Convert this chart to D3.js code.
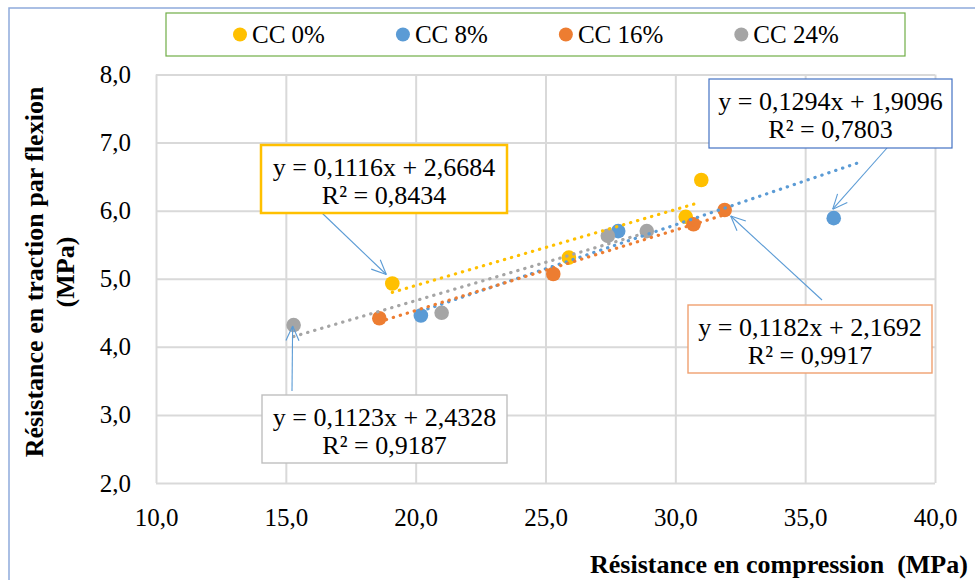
<!DOCTYPE html>
<html>
<head>
<meta charset="utf-8">
<script src="https://cdn.jsdelivr.net/npm/d3@7"></script>
<style>
  html, body { margin: 0; padding: 0; background: #fff; }
  svg, svg text { font-family: "Liberation Serif", "Tinos", "DejaVu Serif", serif !important; }
  .tick text { font-size: 25px; fill: #000; }
</style>
</head>
<body>
<svg id="chart" width="975" height="580"></svg>
<script>
// Series names
const categories = ["CC 0%", "CC 8%", "CC 16%", "CC 24%"];

// Compression strength (MPa) and flexural tensile strength (MPa) per series
const cc0Compression  = [19.1, 25.9, 30.4, 31.0];
const cc0Flexion      = [4.93, 5.31, 5.91, 6.45];
const cc8Compression  = [20.2, 27.8, 36.1];
const cc8Flexion      = [4.46, 5.70, 5.89];
const cc16Compression = [18.6, 25.3, 30.7, 31.9];
const cc16Flexion     = [4.42, 5.07, 5.80, 6.01];
const cc24Compression = [15.3, 21.0, 27.4, 28.9];
const cc24Flexion     = [4.32, 4.50, 5.63, 5.70];

// Linear trendlines: y = slope * x + intercept, with R²
const trendSlopes     = [0.1116, 0.1294, 0.1182, 0.1123];
const trendIntercepts = [2.6684, 1.9096, 2.1692, 2.4328];
const trendR2         = [0.8434, 0.7803, 0.9917, 0.9187];
const trendFrom       = [19.1, 20.2, 18.6, 15.3];
const trendTo         = [30.8, 37.0, 31.9, 28.9];

// Axis ticks
const xTicks = [10, 15, 20, 25, 30, 35, 40];
const xTickLabels = ["10,0", "15,0", "20,0", "25,0", "30,0", "35,0", "40,0"];
const yTicks = [2, 3, 4, 5, 6, 7, 8];
const yTickLabels = ["2,0", "3,0", "4,0", "5,0", "6,0", "7,0", "8,0"];

const xTitle = "Résistance en compression  (MPa)";
const yTitleLines = ["Résistance en traction par flexion", "(MPa)"];

// ---- build series table ----
const xs = [cc0Compression, cc8Compression, cc16Compression, cc24Compression];
const ys = [cc0Flexion, cc8Flexion, cc16Flexion, cc24Flexion];
const colors = ["#FFC000", "#5B9BD5", "#ED7D31", "#A5A5A5"];
const series = categories.map((name, i) => ({
  name,
  color: colors[i],
  points: xs[i].map((x, j) => ({ x, y: ys[i][j] })),
  slope: trendSlopes[i],
  intercept: trendIntercepts[i],
  r2: trendR2[i],
  from: trendFrom[i],
  to: trendTo[i]
}));

const svg = d3.select("#chart");
const plot = { left: 156, right: 935, top: 74.5, bottom: 483 };

const x = d3.scaleLinear().domain([10, 40]).range([plot.left, plot.right]);
const y = d3.scaleLinear().domain([2, 8]).range([plot.bottom, plot.top]);

// outer chart frame (extends past the window on right/bottom)
svg.append("rect")
  .attr("x", 9).attr("y", 8).attr("width", 1000).attr("height", 600)
  .attr("fill", "#fff").attr("stroke", "#8EAADB").attr("stroke-width", 1.5);

// ---- axes with gridlines ----
const gx = svg.append("g")
  .attr("transform", `translate(0,${plot.bottom})`)
  .call(d3.axisBottom(x)
    .tickValues(xTicks)
    .tickFormat((d, i) => xTickLabels[i])
    .tickSize(-(plot.bottom - plot.top))
    .tickPadding(25));
const gy = svg.append("g")
  .attr("transform", `translate(${plot.left},0)`)
  .call(d3.axisLeft(y)
    .tickValues(yTicks)
    .tickFormat((d, i) => yTickLabels[i])
    .tickSize(-(plot.right - plot.left))
    .tickPadding(25));
[gx, gy].forEach(g => {
  g.attr("font-family", null);
  g.select(".domain").remove();
  g.selectAll(".tick line").attr("stroke", "#D9D9D9").attr("stroke-width", 2);
});

// ---- scatter points ----
series.forEach(s => {
  svg.append("g").selectAll("circle")
    .data(s.points).join("circle")
    .attr("cx", d => x(d.x))
    .attr("cy", d => y(d.y))
    .attr("r", 7.3)
    .attr("fill", s.color);
});

// ---- dotted trendlines ----
series.forEach(s => {
  const f = v => s.slope * v + s.intercept;
  svg.append("line")
    .attr("x1", x(s.from)).attr("y1", y(f(s.from)))
    .attr("x2", x(s.to)).attr("y2", y(f(s.to)))
    .attr("stroke", s.color)
    .attr("stroke-width", 3.2)
    .attr("stroke-linecap", "round")
    .attr("stroke-dasharray", "0.3 7");
});

// ---- equation callouts ----
const fmt4 = v => d3.format(".4f")(v).replace(".", ",");
const callouts = [
  { s: 0, box: { x: 261, y: 145, w: 246, h: 68 }, stroke: "#FFC000", sw: 2.5, tail: [322, 213], pt: 0, off: [-6, -9] },
  { s: 1, box: { x: 709, y: 79,  w: 243, h: 69 }, stroke: "#4472C4", sw: 1.2, tail: [887, 148], pt: 2, off: [-1, -9] },
  { s: 2, box: { x: 688, y: 305, w: 244, h: 68 }, stroke: "#F0A070", sw: 1.4, tail: [822, 300], pt: 3, off: [6, 6] },
  { s: 3, box: { x: 262, y: 395, w: 245, h: 68 }, stroke: "#BFBFBF", sw: 1.4, tail: [292, 391], pt: 0, off: [-1, 1] }
];

callouts.forEach(c => {
  const s = series[c.s];
  // arrow
  const p = s.points[c.pt];
  const tx = x(p.x) + c.off[0], ty = y(p.y) + c.off[1];
  const [sx, sy] = c.tail;
  const ang = Math.atan2(ty - sy, tx - sx);
  const headLen = 16, spread = 0.42;
  const g = svg.append("g").attr("stroke", "#5B9BD5").attr("stroke-width", 1.1).attr("fill", "none");
  g.append("line").attr("x1", sx).attr("y1", sy).attr("x2", tx).attr("y2", ty);
  [-spread, spread].forEach(a => {
    g.append("line")
      .attr("x1", tx).attr("y1", ty)
      .attr("x2", tx - headLen * Math.cos(ang + a))
      .attr("y2", ty - headLen * Math.sin(ang + a));
  });
  // box
  svg.append("rect")
    .attr("x", c.box.x).attr("y", c.box.y).attr("width", c.box.w).attr("height", c.box.h)
    .attr("fill", "#fff").attr("stroke", c.stroke).attr("stroke-width", c.sw);
  const cx = c.box.x + c.box.w / 2;
  const t = svg.append("text")
    .attr("text-anchor", "middle")
    .attr("font-size", 26)
    .attr("fill", "#000");
  t.append("tspan").attr("x", cx).attr("y", c.box.y + 31)
    .text(`y = ${fmt4(s.slope)}x + ${fmt4(s.intercept)}`);
  t.append("tspan").attr("x", cx).attr("y", c.box.y + 59)
    .text(`R² = ${fmt4(s.r2)}`);
});

// ---- legend ----
svg.append("rect")
  .attr("x", 166).attr("y", 13).attr("width", 739).attr("height", 43)
  .attr("fill", "#fff").attr("stroke", "#70AD47").attr("stroke-width", 1.2);
let lx = 240;
series.forEach(s => {
  svg.append("circle").attr("cx", lx).attr("cy", 34.5).attr("r", 7).attr("fill", s.color);
  const t = svg.append("text")
    .attr("x", lx + 12).attr("y", 43)
    .attr("font-size", 25).attr("fill", "#000")
    .text(s.name);
  lx += 12 + t.node().getComputedTextLength() + 78;
});

// ---- axis titles ----
svg.append("text")
  .attr("x", 590).attr("y", 573)
  .attr("font-size", 26).attr("font-weight", "bold")
  .style("white-space", "pre")
  .attr("fill", "#000")
  .text(xTitle);

yTitleLines.forEach((line, i) => {
  svg.append("text")
    .attr("transform", `translate(${43 + i * 31},272) rotate(-90)`)
    .attr("text-anchor", "middle")
    .attr("font-size", 26).attr("font-weight", "bold")
    .attr("fill", "#000")
    .text(line);
});
</script>
</body>
</html>
